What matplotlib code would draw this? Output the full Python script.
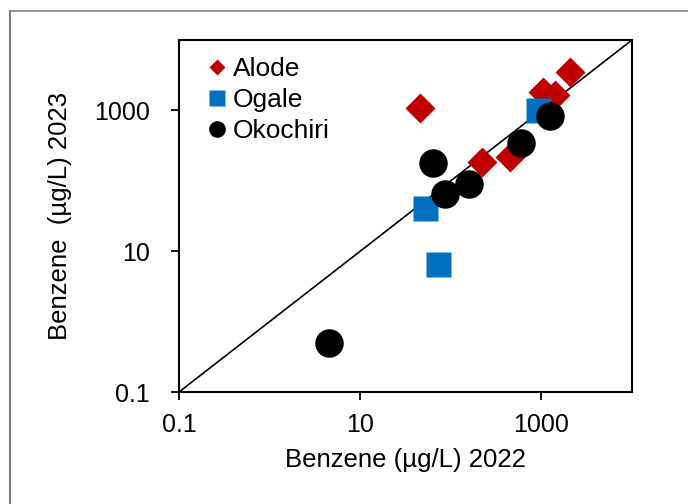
import numpy as np
import matplotlib
matplotlib.use("Agg")
import matplotlib.pyplot as plt
from matplotlib.lines import Line2D

plt.rcParams['font.family'] = ['Liberation Sans', 'DejaVu Sans']

# benzene concentrations (ug/L), 2022 vs 2023
alode_2022 = [46, 2070, 1410, 1050, 219, 450]
alode_2023 = [1070, 3550, 1650, 1850, 186, 220]

ogale_2022 = [925, 52, 73]
ogale_2023 = [1014, 41, 6.5]

okochiri_2022 = [4.5, 63, 86, 160, 600, 1250]
okochiri_2023 = [0.49, 181, 66, 90, 340, 830]

ticks = [0.1, 10, 1000]
tick_labels = ["0.1", "10", "1000"]

red = "#C00000"
blue = "#0070C0"

fig = plt.figure(figsize=(6.88, 5.04), dpi=100)
ax = fig.add_axes([179 / 688, 112 / 504, 453 / 688, 352 / 504])

# 1:1 line
ax.plot([0.1, 10000], [0.1, 10000], color="black", lw=1.2, zorder=1)

ax.plot(alode_2022, alode_2023, ls="none", marker="D", ms=15.3,
        color=red, mec="none", zorder=2)
ax.plot(ogale_2022, ogale_2023, ls="none", marker="s", ms=18,
        color=blue, mec="none", zorder=3)
ax.plot(okochiri_2022, okochiri_2023, ls="none", marker="o", ms=20.5,
        color="black", mec="none", zorder=4)

ax.set_xscale("log")
ax.set_yscale("log")
ax.set_xlim(0.1, 10000)
ax.set_ylim(0.1, 10000)
ax.set_xticks(ticks)
ax.set_xticklabels(tick_labels)
ax.set_yticks(ticks)
ax.set_yticklabels(tick_labels)
ax.minorticks_off()
ax.tick_params(direction="out", length=6, width=1.3, labelsize=18)
ax.tick_params(axis="x", pad=9)
ax.tick_params(axis="y", pad=15)
for s in ax.spines.values():
    s.set_linewidth(1.5)

ax.set_xlabel("Benzene (µg/L) 2022", fontsize=18.5, labelpad=8)
ax.set_ylabel("Benzene  (µg/L) 2023", fontsize=18.5, labelpad=16)

handles = [
    Line2D([], [], ls="none", marker="D", ms=8.5, color=red, mec="none"),
    Line2D([], [], ls="none", marker="s", ms=12, color=blue, mec="none"),
    Line2D([], [], ls="none", marker="o", ms=12, color="black", mec="none"),
]
ax.legend(handles, ["Alode", "Ogale", "Okochiri"], loc="upper left",
          frameon=False, fontsize=19, handlelength=0.6, handletextpad=0.3,
          labelspacing=0.27, borderaxespad=0.25, bbox_to_anchor=(0.029, 1.0))

# grey frame around the figure (left and top edges only visible)
fig.add_artist(Line2D([10 / 688, 10 / 688], [0, 1 - 11 / 504],
                      transform=fig.transFigure, color="#808080", lw=1.5))
fig.add_artist(Line2D([10 / 688, 1], [1 - 11 / 504, 1 - 11 / 504],
                      transform=fig.transFigure, color="#808080", lw=1.2))

fig.savefig("out.png", dpi=100)
